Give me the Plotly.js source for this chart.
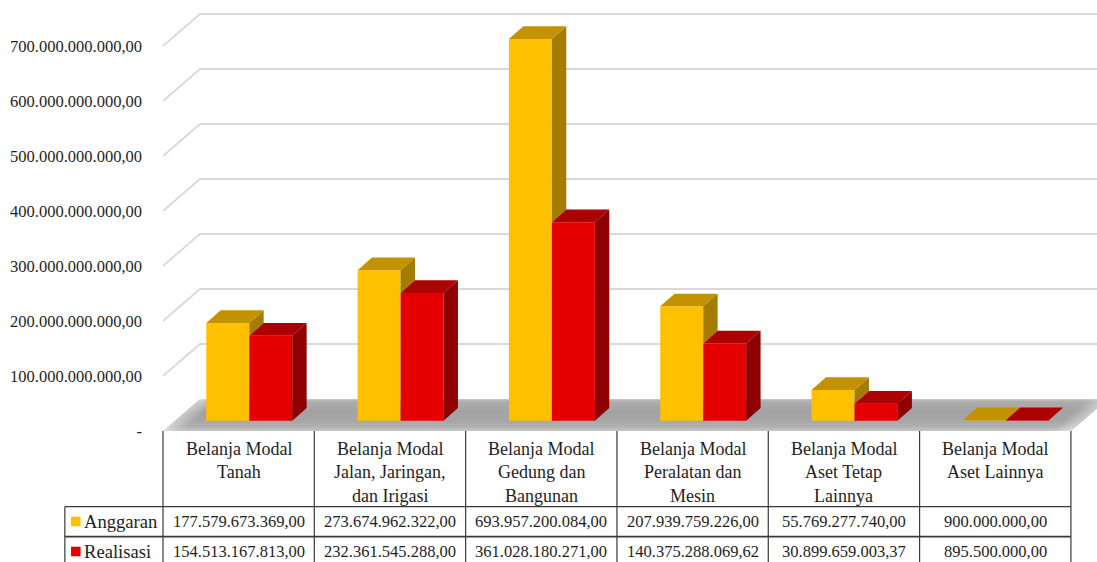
<!DOCTYPE html>
<html>
<head>
<meta charset="utf-8">
<script src="https://cdn.plot.ly/plotly-3.0.1.min.js"></script>
<style>html,body{margin:0;padding:0;background:#fff;overflow:hidden}#chart{width:1097px;height:562px}</style>
</head>
<body>
<div id="chart"></div>
<script>
// Categories and series
const categories = [
  ["Belanja Modal", "Tanah"],
  ["Belanja Modal", "Jalan, Jaringan,", "dan Irigasi"],
  ["Belanja Modal", "Gedung dan", "Bangunan"],
  ["Belanja Modal", "Peralatan dan", "Mesin"],
  ["Belanja Modal", "Aset Tetap", "Lainnya"],
  ["Belanja Modal", "Aset Lainnya"]
];
const anggaran = [177579673369.00, 273674962322.00, 693957200084.00, 207939759226.00, 55769277740.00, 900000000.00];
const realisasi = [154513167813.00, 232361545288.00, 361028180271.00, 140375288069.62, 30899659003.37, 895500000.00];
const tickValues = [0, 100e9, 200e9, 300e9, 400e9, 500e9, 600e9, 700e9];

// Frame of the drawing, in pixels
const W = 1097, H = 562, LEFT = 162.5, BOTTOM_Y = 431;
const CAT_W = 151.4, PX_PER_VALUE = 0.55e-9;

// Projection of the depth axis
const wallDx = 37 / CAT_W, wallDv = 32 / PX_PER_VALUE;       // floor front edge to back wall
const insetDx = 10.6 / CAT_W, insetDv = 10.3 / PX_PER_VALUE; // floor front edge to bar front
const depthDx = 14.4 / CAT_W, depthDv = 12.7 / PX_PER_VALUE; // bar depth
const barW = 43 / CAT_W;

const xMax = (W - LEFT) / CAT_W, vMax = BOTTOM_Y * 1 / PX_PER_VALUE;
const centres = categories.map((_, i) => i + 0.5 + insetDx);

const px = x => (x - LEFT) / (W - LEFT);
const py = y => 1 - y / BOTTOM_Y;
const poly = pts => "M" + pts.map(p => p[0] + "," + p[1]).join("L") + "Z";

function face(name, color, xs, ys) {
  return {type: "scatter", mode: "lines", x: xs, y: ys, fill: "toself", fillcolor: color,
          line: {width: 0, color: color}, hoverinfo: "skip", showlegend: false, name: name};
}

// Parallelogram faces of each box are chained into one trace, separated by gaps
function chain(list) {
  const xs = [], ys = [];
  list.forEach(p => { p.forEach(q => { xs.push(q[0]); ys.push(q[1]); }); xs.push(null); ys.push(null); });
  return [xs, ys];
}
function topFace(x0, x1, v) {
  const t = v + insetDv;
  return [[x0, t], [x1, t], [x1 + depthDx, t + depthDv], [x0 + depthDx, t + depthDv], [x0, t]];
}
function sideFace(x, vLow, vHigh) {
  const a = vLow + insetDv, b = vHigh + insetDv;
  return [[x, a], [x + depthDx, a + depthDv], [x + depthDx, b + depthDv], [x, b], [x, a]];
}

const yTop = chain(centres.map((c, i) => topFace(c - barW, c, anggaran[i])));
const ySide = chain(centres.map((c, i) => sideFace(c, realisasi[i], anggaran[i])));
const rTop = chain(centres.map((c, i) => topFace(c, c + barW, realisasi[i])));
const rSide = chain(centres.map((c, i) => sideFace(c + barW, 0, realisasi[i])));

const traces = [
  {type: "bar", name: "Anggaran", x: centres, y: anggaran, base: insetDv, width: barW, offset: -barW,
   marker: {color: "#FFC000", line: {width: 0}}, hoverinfo: "skip", showlegend: false},
  {type: "bar", name: "Realisasi", x: centres, y: realisasi, base: insetDv, width: barW, offset: 0,
   marker: {color: "#E40000", line: {width: 0}}, hoverinfo: "skip", showlegend: false},
  face("Anggaran sisi", "#A37C00", ySide[0], ySide[1]),
  face("Anggaran atas", "#C29200", yTop[0], yTop[1]),
  face("Realisasi sisi", "#8F0000", rSide[0], rSide[1]),
  face("Realisasi atas", "#AD0000", rTop[0], rTop[1])
];

const shapes = [];

// Gridlines run along the side wall, then across the back wall
tickValues.slice(1).forEach(v => {
  shapes.push({type: "path", layer: "below", xref: "x", yref: "y",
    path: "M0," + v + "L" + wallDx + "," + (v + wallDv) + "L" + xMax + "," + (v + wallDv),
    line: {color: "#D9D9D9", width: 1.8}});
});

// Floor, shaded in thin strips from the back wall to the front edge
const floorStops = [
  [0.00, "#CCCCCC"], [0.07, "#AEAEAE"], [0.40, "#A2A2A2"],
  [0.68, "#A6A6A6"], [0.85, "#B0B0B0"], [1.00, "#C6C6C6"]
];
function mix(a, b, t) {
  const h = s => [1, 3, 5].map(i => parseInt(s.substr(i, 2), 16));
  const A = h(a), B = h(b);
  return "rgb(" + A.map((c, i) => Math.round(c + (B[i] - c) * t)).join(",") + ")";
}
const STRIPS = 32, FLOOR_RIGHT = categories.length;
for (let s = 0; s < STRIPS; s++) {
  const t0 = s / STRIPS, t1 = (s + 1.2) / STRIPS, tm = (s + 0.5) / STRIPS;
  let k = 0;
  while (k < floorStops.length - 2 && tm > floorStops[k + 1][0]) k++;
  const color = mix(floorStops[k][1], floorStops[k + 1][1],
    (tm - floorStops[k][0]) / (floorStops[k + 1][0] - floorStops[k][0]));
  const d0 = 1 - t0, d1 = 1 - Math.min(1, t1);
  shapes.push({type: "path", layer: "below", xref: "x", yref: "y",
    path: poly([[wallDx * d0, wallDv * d0], [FLOOR_RIGHT + wallDx * d0, wallDv * d0],
                [FLOOR_RIGHT + wallDx * d1, wallDv * d1], [wallDx * d1, wallDv * d1]]),
    fillcolor: color, line: {width: 0}});
}

// The floor fades out towards its left and right edges
const FADE_STEPS = 6, FADE_STEP = 3 / CAT_W;
for (let i = 0; i < FADE_STEPS; i++) {
  const veil = "rgba(255,255,255," + (0.42 * (1 - i / FADE_STEPS)).toFixed(3) + ")";
  [[i * FADE_STEP, (i + 1) * FADE_STEP], [FLOOR_RIGHT - (i + 1) * FADE_STEP, FLOOR_RIGHT - i * FADE_STEP]].forEach(u => {
    shapes.push({type: "path", layer: "below", xref: "x", yref: "y",
      path: poly([[u[0], 0], [u[1], 0], [u[1] + wallDx, wallDv], [u[0] + wallDx, wallDv]]),
      fillcolor: veil, line: {width: 0}});
  });
}

// Data table grid under the plot
const tableLine = "#3A3A3A";
const ROW1 = 506.7, ROW2 = 536.7, TABLE_LEFT = 64.3;
const gridLine = (x0, y0, x1, y1, width) => shapes.push({type: "line", xref: "paper", yref: "paper",
  x0: px(x0), y0: py(y0), x1: px(x1), y1: py(y1), line: {color: tableLine, width: width}});
for (let i = 0; i <= categories.length; i++) {
  const x = LEFT + i * CAT_W;
  gridLine(x, BOTTOM_Y, x, H, 1.2);
}
gridLine(TABLE_LEFT, ROW1, TABLE_LEFT, H, 1.2);
gridLine(TABLE_LEFT, ROW1, LEFT + 6 * CAT_W, ROW1, 1.2);
gridLine(TABLE_LEFT, ROW2, LEFT + 6 * CAT_W, ROW2, 1.8);

// Legend keys inside the table
const key = (y, color) => shapes.push({type: "rect", xref: "paper", yref: "paper",
  x0: px(70.5), x1: px(80), y0: py(y - 4.8), y1: py(y + 4.8), fillcolor: color, line: {width: 0}});
key(521.5, "#FFC000");
key(551.5, "#E40000");

// Table text
const money = v => {
  const [a, b] = v.toFixed(2).split(".");
  return a.replace(/\B(?=(\d{3})+$)/g, ".") + "," + b;
};
const textFont = {family: "'Liberation Serif', serif", size: 16.5, color: "#1E1E1E"};
const labelFont = {family: "'Liberation Serif', serif", size: 18, color: "#1E1E1E"};
const seriesFont = {family: "'Liberation Serif', serif", size: 18.6, color: "#1E1E1E"};
const annotations = [];
const note = (text, x, xref, y, font, xanchor) => annotations.push({text: text, x: x, xref: xref,
  y: py(y), yref: "paper", xanchor: xanchor || "center", yanchor: "middle", showarrow: false, font: font});
const catLineY = [449, 472, 495.5];
categories.forEach((lines, i) => {
  lines.forEach((line, j) => note(line, i + 0.5, "x", catLineY[j], labelFont));
  note(money(anggaran[i]), i + 0.5, "x", 521.5, textFont);
  note(money(realisasi[i]), i + 0.5, "x", 551.5, textFont);
});
note("Anggaran", px(81.5), "paper", 521.5, seriesFont, "left");
note("Realisasi", px(81.5), "paper", 551.5, seriesFont, "left");

const tickText = tickValues.map(v => v === 0 ? "-" : money(v));

const layout = {
  width: W, height: H,
  margin: {l: LEFT, r: 0, t: 0, b: H - BOTTOM_Y, pad: 0},
  paper_bgcolor: "#FFFFFF", plot_bgcolor: "#FFFFFF",
  barmode: "overlay", showlegend: false,
  xaxis: {range: [0, xMax], showgrid: false, zeroline: false, showline: false,
          showticklabels: false, ticks: "", fixedrange: true},
  yaxis: {range: [0, vMax], showgrid: false, zeroline: false, showline: false,
          tickmode: "array", tickvals: tickValues, ticktext: tickText, ticks: "",
          ticklabelstandoff: 20, tickfont: textFont, fixedrange: true},
  shapes: shapes, annotations: annotations
};

Plotly.newPlot("chart", traces, layout, {displayModeBar: false, staticPlot: true});
</script>
</body>
</html>
